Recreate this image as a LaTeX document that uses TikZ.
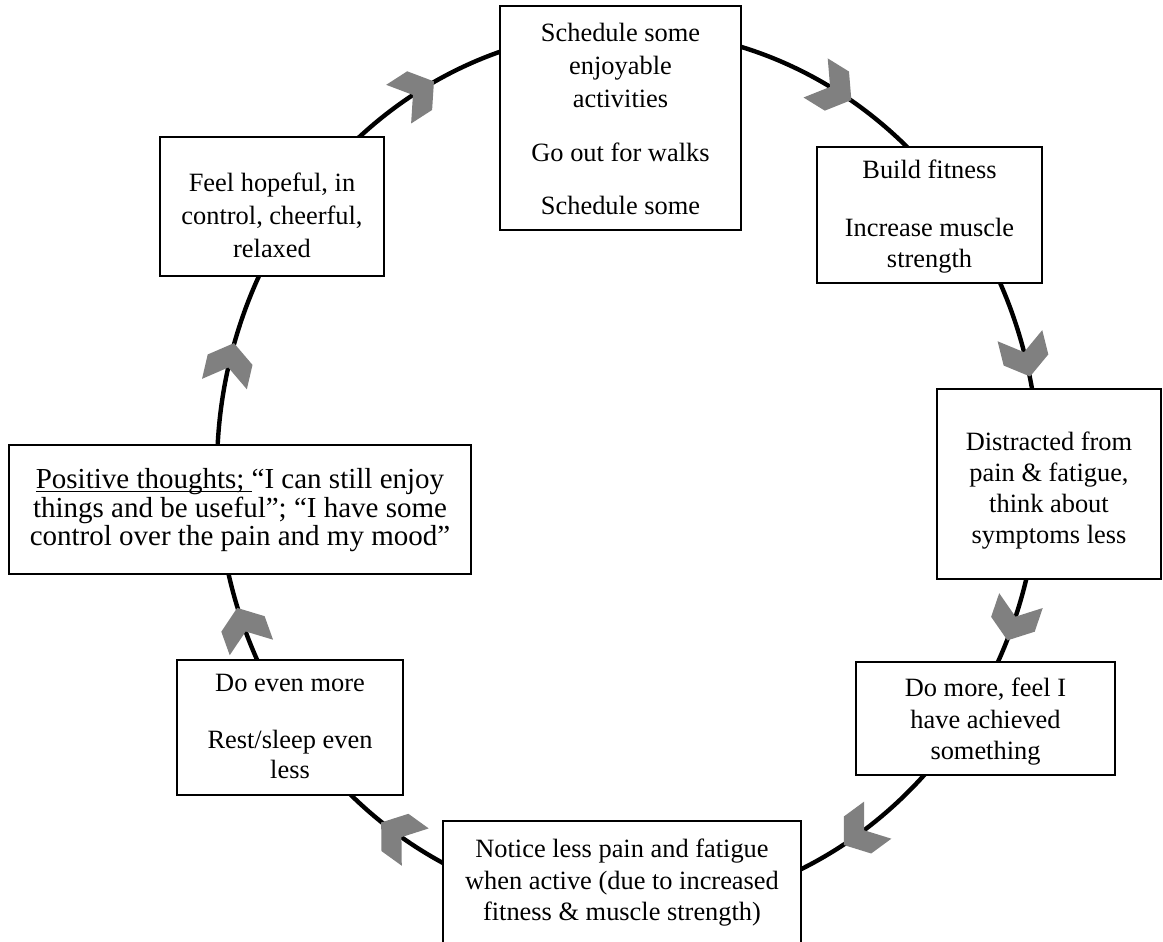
\documentclass[tikz,border=0pt]{standalone}
\usepackage{fontspec}
\setmainfont{Liberation Serif}
\definecolor{chevgray}{HTML}{808080}
\tikzset{
  cyclebox/.style={draw=black, line width=1.6pt, fill=white, inner sep=0pt},
  boxtext/.style={inner sep=0pt, anchor=base},
  chev/.pic={\fill[chevgray] (-21,-23) -- (4,-23) -- (21,0) -- (4,23) -- (-21,23) -- (-4,0) -- cycle;}
}
\newcommand{\linesf}[3]{{\fontsize{#1}{#2}\selectfont\begin{tabular}[t]{@{}c@{}}#3\end{tabular}}}
\newcommand{\lines}[2]{\linesf{26.4}{#1}{#2}}
\newsavebox{\ulbox}
\newcommand{\myul}[1]{\sbox{\ulbox}{#1}\rlap{\rule[-3pt]{\wd\ulbox}{1.3pt}}\usebox{\ulbox}}
\begin{document}
\begin{tikzpicture}[x=1pt,y=1pt]
\useasboundingbox (0,0) rectangle (1163,942);
\clip (0,0) rectangle (1163,942);
\fill[white] (0,0) rectangle (1163,942);
% cycle
\draw[line width=4.4pt] (628,472) ellipse [x radius=411pt, y radius=440pt];
% boxes
\node[cyclebox, minimum width=241pt, minimum height=224pt] (b1) at (620.5,824) {};
\node[cyclebox, minimum width=225pt, minimum height=136pt] (b2) at (929.5,727) {};
\node[cyclebox, minimum width=224pt, minimum height=190pt] (b3) at (1049,458) {};
\node[cyclebox, minimum width=259pt, minimum height=113pt] (b4) at (985.5,223.5) {};
\node[cyclebox, minimum width=358pt, minimum height=139pt] (b5) at (622,51.5) {};
\node[cyclebox, minimum width=226pt, minimum height=135pt] (b6) at (290,214.5) {};
\node[cyclebox, minimum width=462pt, minimum height=129pt] (b7) at (240,432.5) {};
\node[cyclebox, minimum width=224pt, minimum height=139pt] (b8) at (272,735.5) {};
% texts
\node[boxtext] (t1) at (620.5,900) {\lines{33}{Schedule some\\ enjoyable\\ activities\\[21pt] Go out for walks\\[20pt] Schedule some}};
\node[boxtext] (t2) at (929.5,763) {\lines{31}{Build fitness\\[27pt] Increase muscle\\ strength}};
\node[boxtext] (t3) at (1049,491) {\lines{31}{Distracted from\\ pain \& fatigue,\\ think about\\ symptoms less}};
\node[boxtext] (t4) at (985.5,245) {\lines{31.5}{Do more, feel I\\ have achieved\\ something}};
\node[boxtext] (t5) at (622,84) {\lines{31.5}{Notice less pain and fatigue\\ when active (due to increased\\ fitness \& muscle strength)}};
\node[boxtext] (t6) at (290,250) {\lines{30}{Do even more\\[27pt] Rest/sleep even\\ less}};
\node[boxtext] (t7) at (240,453) {\linesf{29}{26.7}{\myul{Positive thoughts; }“I can still enjoy\\ things and be useful”; “I have some\\ control over the pain and my mood”}};
\node[boxtext] (t8) at (272,750) {\lines{33}{Feel hopeful, in\\ control, cheerful,\\ relaxed}};
% chevrons
\pic[rotate=32.8] at (416.3,849.2) {chev};
\pic[rotate=-31.7] at (833.5,853.0) {chev};
\pic[rotate=-76] at (1025.0,585.9) {chev};
\pic[rotate=-108.8] at (1014.2,321.5) {chev};
\pic[rotate=216.3] at (860.8,109.4) {chev};
\pic[rotate=144.2] at (398.2,107.2) {chev};
\pic[rotate=109.7] at (244.3,314.3) {chev};
\pic[rotate=76.9] at (229.2,578.4) {chev};
\end{tikzpicture}
\end{document}
